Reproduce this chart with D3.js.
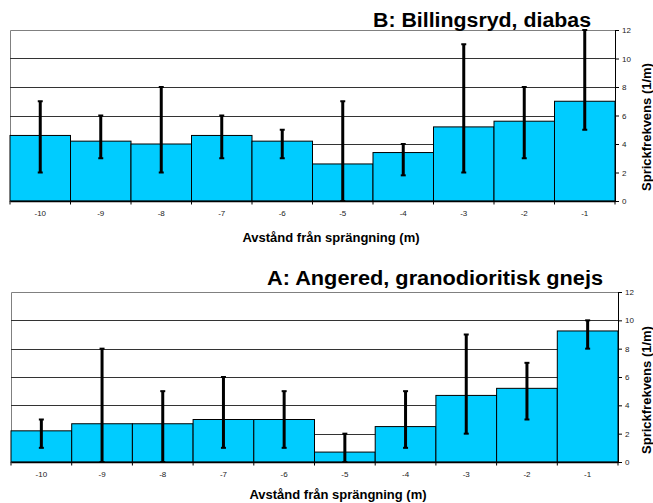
<!DOCTYPE html>
<html>
<head>
<meta charset="utf-8">
<script src="https://cdn.jsdelivr.net/npm/d3@7/dist/d3.min.js"></script>
<style>
  body { margin: 0; background: #fff; }
  svg { display: block; font-family: "Liberation Sans", Arial, sans-serif; }
</style>
</head>
<body>
<svg id="chart" width="653" height="503"></svg>
<script>
// Distance from blasting (m)
const categories = [-10, -9, -8, -7, -6, -5, -4, -3, -2, -1];

// B: Billingsryd, diabas — mean fracture frequency and min/max range
const billingsrydMean = [4.6, 4.2, 4.0, 4.6, 4.2, 2.6, 3.4, 5.2, 5.6, 7.0];
const billingsrydMin  = [2, 3, 2, 3, 3, 0, 1.8, 2, 3, 5];
const billingsrydMax  = [7, 6, 8, 6, 5, 7, 4, 11, 8, 12];

// A: Angered, granodioritisk gnejs
const angeredMean = [2.2, 2.7, 2.7, 3.0, 3.0, 0.7, 2.5, 4.7, 5.2, 9.25];
const angeredMin  = [1, 0, 0, 1, 1, 0, 1, 2, 3, 8];
const angeredMax  = [3, 8, 5, 6, 5, 2, 5, 9, 7, 10];

const yTicks = [0, 2, 4, 6, 8, 10, 12];

const panels = [
  {
    title: "B: Billingsryd, diabas",
    mean: billingsrydMean, lo: billingsrydMin, hi: billingsrydMax,
    x0: 10, x1: 615, yTop: 30, yBot: 201,
    titleX: 591, titleY: 27, titleLen: 218,
    xTitleX: 331, xTitleY: 242,
    yTitleY: 127
  },
  {
    title: "A: Angered, granodioritisk gnejs",
    mean: angeredMean, lo: angeredMin, hi: angeredMax,
    x0: 11, x1: 618, yTop: 292, yBot: 462,
    titleX: 603, titleY: 285, titleLen: 336,
    xTitleX: 338, xTitleY: 499,
    yTitleY: 390
  }
];

const svg = d3.select("#chart");

panels.forEach(p => {
  const g = svg.append("g");
  const x = d3.scaleBand().domain(categories).range([p.x0, p.x1]).padding(0);
  const y = d3.scaleLinear().domain([0, 12]).range([p.yBot, p.yTop]);

  // plot frame (left and top in grey)
  g.append("path")
    .attr("d", `M${p.x0 + 0.5},${p.yBot}V${p.yTop + 0.5}H${p.x1}`)
    .attr("fill", "none").attr("stroke", "#808080").attr("stroke-width", 1);

  // horizontal gridlines
  g.selectAll(".grid").data(yTicks.filter(t => t > 0 && t < 12)).join("line")
    .attr("x1", p.x0).attr("x2", p.x1)
    .attr("y1", d => Math.round(y(d)) + 0.5).attr("y2", d => Math.round(y(d)) + 0.5)
    .attr("stroke", "#333").attr("stroke-width", 1);

  // bars
  const data = categories.map((c, i) => ({ c, m: p.mean[i], lo: p.lo[i], hi: p.hi[i] }));
  g.selectAll(".bar").data(data).join("rect")
    .attr("x", d => x(d.c))
    .attr("width", x.bandwidth())
    .attr("y", d => y(d.m))
    .attr("height", d => y(0) - y(d.m))
    .attr("fill", "#00CCFF")
    .attr("stroke", "#000").attr("stroke-width", 1);

  // error bars
  const eb = g.selectAll(".err").data(data).join("g");
  const cx = d => x(d.c) + x.bandwidth() / 2;
  eb.append("line")
    .attr("x1", cx).attr("x2", cx)
    .attr("y1", d => y(d.lo)).attr("y2", d => y(d.hi))
    .attr("stroke", "#000").attr("stroke-width", 3);
  ["lo", "hi"].forEach(k => {
    eb.append("line")
      .attr("x1", d => cx(d) - 2.5).attr("x2", d => cx(d) + 2.5)
      .attr("y1", d => y(d[k])).attr("y2", d => y(d[k]))
      .attr("stroke", "#000").attr("stroke-width", 2);
  });

  // x axis: labels at band centres, ticks at band boundaries
  const xAxis = g.append("g").attr("transform", `translate(0,${p.yBot})`)
    .call(d3.axisBottom(x).tickSize(0).tickPadding(9));
  xAxis.select(".domain").attr("stroke", "#000").attr("stroke-width", 1.5);
  xAxis.selectAll("text").attr("font-size", 8).attr("fill", "#222")
    .attr("font-family", "Liberation Sans, Arial, sans-serif");
  const bounds = d3.range(categories.length + 1).map(i => p.x0 + i * x.bandwidth());
  g.selectAll(".xt").data(bounds).join("line")
    .attr("x1", d => d).attr("x2", d => d)
    .attr("y1", p.yBot).attr("y2", p.yBot + 3.5)
    .attr("stroke", "#000").attr("stroke-width", 1);

  // right y axis
  const yAxis = g.append("g").attr("transform", `translate(${p.x1},0)`)
    .call(d3.axisRight(y).tickValues(yTicks).tickSize(4).tickPadding(3));
  yAxis.select(".domain").attr("stroke", "#000").attr("stroke-width", 1);
  yAxis.selectAll(".tick line").attr("stroke", "#000");
  yAxis.selectAll("text").attr("font-size", 8).attr("fill", "#222")
    .attr("font-family", "Liberation Sans, Arial, sans-serif");

  // titles
  g.append("text")
    .attr("x", p.titleX).attr("y", p.titleY)
    .attr("text-anchor", "end")
    .attr("font-size", 20).attr("font-weight", "bold")
    .attr("textLength", p.titleLen).attr("lengthAdjust", "spacingAndGlyphs")
    .text(p.title);

  g.append("text")
    .attr("x", p.xTitleX).attr("y", p.xTitleY)
    .attr("text-anchor", "middle")
    .attr("font-size", 13).attr("font-weight", "bold")
    .text("Avstånd från sprängning (m)");

  g.append("text")
    .attr("transform", `translate(651,${p.yTitleY}) rotate(-90)`)
    .attr("text-anchor", "middle")
    .attr("font-size", 13).attr("font-weight", "bold")
    .text("Sprickfrekvens (1/m)");
});
</script>
</body>
</html>
